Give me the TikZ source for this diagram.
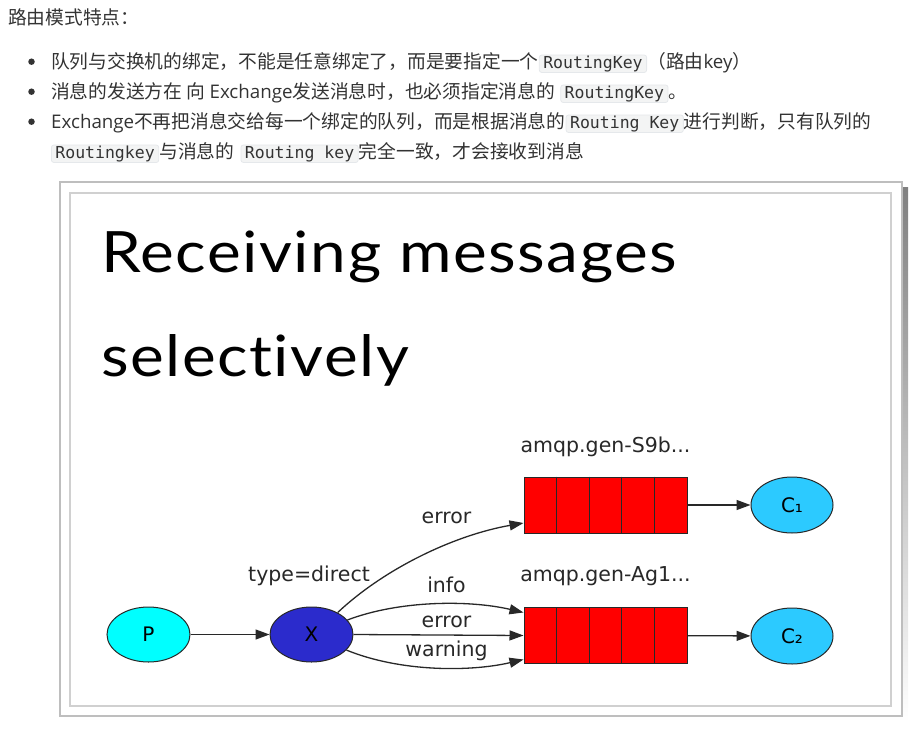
\documentclass[tikz,border=0pt]{standalone}
\usepackage{fontspec}
\usetikzlibrary{arrows.meta,shapes.geometric,calc}
\newfontfamily\cjkfont{Noto Sans CJK SC}
\newfontfamily\latfont{Open Sans}
\newfontfamily\codefont{DejaVu Sans Mono}
\newfontfamily\dvfont{DejaVu Sans}
\newfontfamily\titlefont[FakeStretch=1.12,LetterSpace=2.7,Ligatures=NoCommon]{Lato}
\definecolor{ink}{RGB}{51,51,51}
\definecolor{codebg}{RGB}{243,244,244}
\definecolor{codeline}{RGB}{229,232,235}
\definecolor{frameout}{RGB}{190,190,190}
\definecolor{framein}{RGB}{208,208,208}
\definecolor{shade}{RGB}{236,236,236}
\definecolor{prodfill}{RGB}{0,255,255}
\definecolor{exfill}{RGB}{43,43,204}
\definecolor{consfill}{RGB}{44,202,255}
\definecolor{queuefill}{RGB}{255,0,0}
\definecolor{edge}{RGB}{40,40,40}

\tikzset{
  body/.style={inner sep=0pt, anchor=base west, text=ink, font=\fontsize{18.75}{22}\selectfont},
  codebox/.style={fill=codebg, draw=codeline, line width=0.8pt, rounded corners=2.5pt,
    inner xsep=4pt, inner ysep=1.5pt, text height=12pt, text depth=2.5pt,
    anchor=base west, text=ink, font=\codefont\fontsize{16.5}{20}\selectfont},
  dot/.style={circle, fill=ink, inner sep=0pt, minimum size=6.5pt},
  lbl/.style={inner sep=0pt, anchor=base, text=edge, font=\dvfont\fontsize{20.5}{24}\selectfont},
  blob/.style={ellipse, draw=edge, line width=1pt, inner sep=0pt,
    minimum width=83pt, minimum height=55pt, font=\dvfont\fontsize{20}{24}\selectfont},
  queue/.style={rectangle, draw=edge, line width=1pt, fill=queuefill, inner sep=0pt,
    minimum width=163pt, minimum height=56pt},
  link/.style={draw=edge, line width=1.3pt, -{Triangle[length=14pt,width=10pt]}}
}

\begin{document}
\begin{tikzpicture}[x=1pt, y=-1pt]
\useasboundingbox (0,0) rectangle (917,730);
% heading and bullet list
\node[body] (head) at (8,24.3) {\cjkfont 路由模式特点：};
\node[dot] (b1) at (31.5,61.7) {};
\node[dot] (b2) at (31.5,91.7) {};
\node[dot] (b3) at (31.5,121.7) {};
\node[body] (l1a) at (51,68.5) {\cjkfont 队列与交换机的绑定，不能是任意绑定了，而是要指定一个};
\node[codebox] (l1b) at (l1a.base east) {RoutingKey};
\node[body] (l1c) at (l1b.base east) {\cjkfont （路由\latfont key\cjkfont ）};
\node[body] (l2a) at (51,98.5) {\cjkfont 消息的发送方在 向 \latfont Exchange\cjkfont 发送消息时，也必须指定消息的};
\node[codebox] (l2b) at ([xshift=5pt]l2a.base east) {RoutingKey};
\node[body] (l2c) at (l2b.base east) {\cjkfont 。};
\node[body] (l3a) at (51,128.5) {\latfont Exchange\cjkfont 不再把消息交给每一个绑定的队列，而是根据消息的};
\node[codebox] (l3b) at (l3a.base east) {Routing Key};
\node[body] (l3c) at (l3b.base east) {\cjkfont 进行判断，只有队列的};
\node[codebox] (l4a) at (51,158.5) {Routingkey};
\node[body] (l4b) at (l4a.base east) {\cjkfont 与消息的};
\node[codebox] (l4c) at ([xshift=6pt]l4b.base east) {Routing key};
\node[body] (l4d) at (l4c.base east) {\cjkfont 完全一致，才会接收到消息};
% picture frame
\fill[shade] (64,187) rectangle (908,722);
\draw[frameout, fill=white, line width=1.5pt] (60,182) rectangle (902,716);
\draw[framein, line width=1.5pt] (70,193) rectangle (891,706);
% title
\node[inner sep=0pt, anchor=base west, font=\titlefont\fontsize{57}{60}\selectfont] (ttl1) at (101,272.7) {Receiving messages};
\node[inner sep=0pt, anchor=base west, font=\titlefont\fontsize{57}{60}\selectfont] (ttl2) at (101,376.7) {selectively};
% nodes
\node[blob, fill=prodfill] (p) at (148.5,634.5) {P};
\node[blob, fill=exfill] (x) at (311.5,634.5) {X};
\node[queue] (q1) at (605.5,505) {};
\node[queue] (q2) at (605.5,635.5) {};
\foreach \q in {q1,q2} {
  \foreach \k in {1,...,4} {
    \draw[edge, line width=1pt] ($(\q.north west)!\k/5!(\q.north east)$) -- ($(\q.south west)!\k/5!(\q.south east)$);
  }
}
\node[blob, fill=consfill, minimum width=82pt, minimum height=56pt] (c1) at (792,505) {C₁};
\node[blob, fill=consfill, minimum width=82pt, minimum height=56pt] (c2) at (792,636) {C₂};
% labels
\node[lbl] (q1name) at (605.5,452) {amqp.gen-S9b...};
\node[lbl] (q2name) at (605.5,581.7) {amqp.gen-Ag1...};
\node[lbl] (xtype) at (309,581.7) {type=direct};
\node[lbl] (kerr1) at (446.5,523) {error};
\node[lbl] (kinfo) at (446.5,592.7) {info};
\node[lbl] (kerr2) at (446.5,627) {error};
\node[lbl] (kwarn) at (446.5,656.7) {warning};
% connectors
\draw[link] (p) -- (x);
\draw[link] (q1) -- (c1);
\draw[link] (q2) -- (c2);
\draw[link] (x.40) .. controls (385,568) and (455,535) .. ([yshift=-18pt]q1.west);
\draw[link] (x.22) .. controls (400,600) and (470,600) .. ([yshift=23pt]q2.west);
\draw[link] (x.east) -- (q2.west);
\draw[link] (x.-24) .. controls (400,672) and (470,672) .. ([yshift=-24pt]q2.west);
\end{tikzpicture}
\end{document}
